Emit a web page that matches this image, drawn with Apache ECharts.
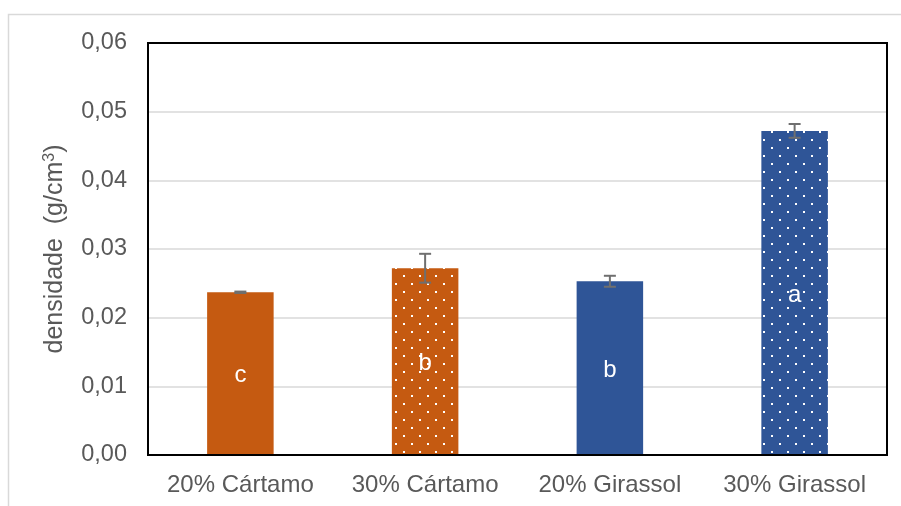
<!DOCTYPE html>
<html>
<head>
<meta charset="utf-8">
<script src="https://cdn.jsdelivr.net/npm/echarts@6/dist/echarts.min.js"></script>
<style>
  html, body { margin: 0; padding: 0; background: #fff; }
  #chart { width: 901px; height: 506px; }
</style>
</head>
<body>
<div id="chart"></div>
<script>
// Density per formulation (mean ± error) with grouping letters
const categories = ['20% Cártamo', '30% Cártamo', '20% Girassol', '30% Girassol'];
const densityMean = [0.0237, 0.0272, 0.0253, 0.0472];
const densityErr = [0.0001, 0.0021, 0.0008, 0.0010];
const groupLetters = ['c', 'b', 'b', 'a'];
const barColors = ['#C55A11', '#C55A11', '#2F5597', '#2F5597'];
const dotted = [false, true, false, true];
const yTicks = [0, 0.01, 0.02, 0.03, 0.04, 0.05, 0.06];

const FONT = '"Liberation Sans", Arial, sans-serif';
const TEXT = '#595959';

// white dot tile used for the dotted bars
function dotPattern(bg) {
  const c = document.createElement('canvas');
  c.width = 16; c.height = 16;
  const g = c.getContext('2d');
  g.fillStyle = bg; g.fillRect(0, 0, 16, 16);
  g.fillStyle = '#ffffff';
  g.fillRect(3, 3, 2, 2);
  g.fillRect(11, 11, 2, 2);
  return { image: c, repeat: 'repeat' };
}

const barData = densityMean.map((v, i) => ({
  value: v,
  itemStyle: { color: dotted[i] ? dotPattern(barColors[i]) : barColors[i] },
  label: { formatter: groupLetters[i] }
}));

const errData = densityMean.map((v, i) => [i, v + densityErr[i], v - densityErr[i]]);

const chart = echarts.init(document.getElementById('chart'), null, { renderer: 'canvas' });
chart.setOption({
  animation: false,
  backgroundColor: '#ffffff',
  graphic: [{
    type: 'rect', silent: true, z: -10,
    shape: { x: 8.5, y: 14.5, width: 910, height: 510 },
    style: { fill: 'none', stroke: '#d9d9d9', lineWidth: 1.5 }
  }],
  grid: {
    left: 148, top: 43, right: 14, bottom: 51,
    show: true, borderColor: '#000000', borderWidth: 2, backgroundColor: 'transparent', z: 5
  },
  xAxis: {
    type: 'category',
    data: categories,
    axisLine: { show: false },
    axisTick: { show: false },
    axisLabel: { color: TEXT, fontFamily: FONT, fontSize: 24, margin: 18, interval: 0 }
  },
  yAxis: {
    type: 'value',
    min: yTicks[0], max: yTicks[yTicks.length - 1], interval: 0.01,
    axisLine: { show: false },
    axisTick: { show: false },
    splitLine: { lineStyle: { color: '#d9d9d9', width: 1.5 } },
    axisLabel: {
      color: TEXT, fontFamily: FONT, fontSize: 23.5, margin: 21,
      formatter: v => v.toFixed(2).replace('.', ',')
    },
    name: '{a|densidade  (g/cm}{s|3}{a|)}',
    nameLocation: 'middle',
    nameGap: 79,
    nameTextStyle: {
      rich: {
        a: { color: TEXT, fontFamily: FONT, fontSize: 25 },
        s: { color: TEXT, fontFamily: FONT, fontSize: 16, verticalAlign: 'top', padding: [0, 0, 11, 0] }
      }
    }
  },
  series: [
    {
      type: 'bar',
      data: barData,
      barWidth: '36%',
      label: {
        show: true, position: 'inside', color: '#ffffff',
        fontFamily: FONT, fontSize: 24, offset: [0, 2]
      }
    },
    {
      type: 'custom',
      data: errData,
      z: 10,
      renderItem: function (params, api) {
        const x = api.value(0);
        const top = api.coord([x, api.value(1)]);
        const bot = api.coord([x, api.value(2)]);
        const half = 6;
        const style = { stroke: '#6f6f6f', lineWidth: 2 };
        return {
          type: 'group',
          children: [
            { type: 'line', shape: { x1: top[0], y1: top[1], x2: bot[0], y2: bot[1] }, style },
            { type: 'line', shape: { x1: top[0] - half, y1: top[1], x2: top[0] + half, y2: top[1] }, style },
            { type: 'line', shape: { x1: bot[0] - half, y1: bot[1], x2: bot[0] + half, y2: bot[1] }, style }
          ]
        };
      }
    }
  ]
});
</script>
</body>
</html>
